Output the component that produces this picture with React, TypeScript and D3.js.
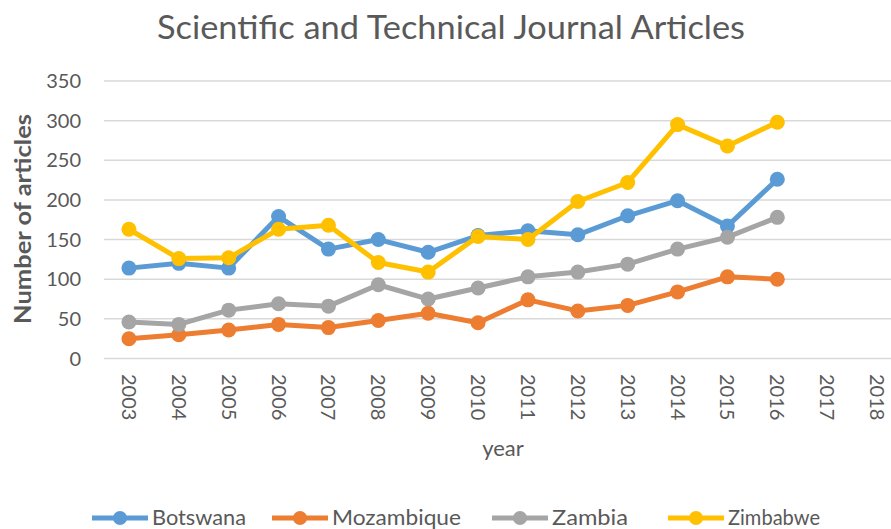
import React from "react";
import * as d3 from "d3";

const years = ["2003","2004","2005","2006","2007","2008","2009","2010","2011","2012","2013","2014","2015","2016","2017","2018"];
const yTicks = [0, 50, 100, 150, 200, 250, 300, 350];
const botswana = [114, 120, 114, 179, 138, 150, 134, 155, 161, 156, 180, 199, 167, 226];
const mozambique = [25, 30, 36, 43, 39, 48, 57, 45, 74, 60, 67, 84, 103, 100];
const zambia = [46, 43, 61, 69, 66, 93, 75, 89, 103, 109, 119, 138, 153, 178];
const zimbabwe = [163, 126, 127, 163, 168, 121, 109, 154, 150, 198, 222, 295, 268, 298];
const seriesNames = ["Botswana", "Mozambique", "Zambia", "Zimbabwe"];
const seriesColors = ["#5B9BD5", "#ED7D31", "#A5A5A5", "#FFC000"];
const seriesValues = [botswana, mozambique, zambia, zimbabwe];

const W = 891, H = 529;
const left = 104, right = 902, top = 81, bottom = 358.5;
const font = "Lato, 'Open Sans', sans-serif";
const textColor = "#595959";

export default function App() {
  const x = d3.scaleBand<string>().domain(years).range([left, right]);
  const y = d3.scaleLinear().domain([0, 350]).range([bottom, top]);
  const cx = (i: number) => (x(years[i]) as number) + x.bandwidth() / 2;
  const line = d3.line<number>().x((_, i) => cx(i)).y((d) => y(d));
  const legendX = [92, 272, 492, 668];
  const legendW = [94, 129, 76, 92];
  return (
    <svg width={W} height={H} style={{ position: "absolute", left: 0, top: 0, background: "#fff" }}>
      <rect width={W} height={H} fill="#fff" />
      <text x={157} y={39} textLength={588} lengthAdjust="spacingAndGlyphs" fontFamily={font} fontSize={33} fill={textColor}>
        Scientific and Technical Journal Articles
      </text>
      {yTicks.map((t) => (
        <g key={t}>
          <line x1={left} x2={right} y1={y(t)} y2={y(t)} stroke="#D9D9D9" strokeWidth={1.5} />
          <text x={81} y={y(t)} dy="0.35em" textAnchor="end" fontFamily={font} fontSize={20} fill={textColor}>
            {t}
          </text>
        </g>
      ))}
      {years.map((yr, i) => (
        <text key={yr} transform={`translate(${cx(i) - 7},${374}) rotate(90)`} textAnchor="start" fontFamily={font} fontSize={20} fill={textColor}>
          {yr}
        </text>
      ))}
      <text x={503} y={456} textAnchor="middle" fontFamily={font} fontSize={22} fill={textColor}>year</text>
      <text transform={`translate(31,219) rotate(-90)`} x={-105} textLength={210} lengthAdjust="spacingAndGlyphs" fontFamily={font} fontSize={23} fontWeight="bold" fill={textColor}>
        Number of articles
      </text>
      {seriesValues.map((vals, s) => (
        <g key={seriesNames[s]}>
          <path d={line(vals) as string} fill="none" stroke={seriesColors[s]} strokeWidth={5} strokeLinejoin="round" />
          {vals.map((v, i) => (
            <circle key={i} cx={cx(i)} cy={y(v)} r={7.5} fill={seriesColors[s]} />
          ))}
        </g>
      ))}
      {seriesNames.map((n, s) => (
        <g key={n}>
          <line x1={legendX[s]} x2={legendX[s] + 56} y1={518} y2={518} stroke={seriesColors[s]} strokeWidth={5} />
          <circle cx={legendX[s] + 28} cy={518} r={7} fill={seriesColors[s]} />
          <text x={legendX[s] + 60} y={518} dy="0.35em" textLength={legendW[s]} lengthAdjust="spacingAndGlyphs" fontFamily={font} fontSize={21} fill={textColor}>{n}</text>
        </g>
      ))}
    </svg>
  );
}
